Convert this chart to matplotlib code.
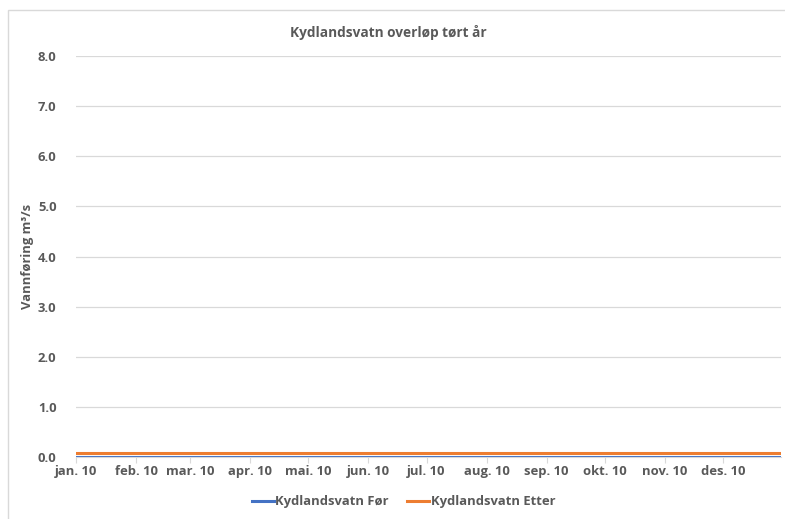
import matplotlib
matplotlib.use("Agg")
import matplotlib.pyplot as plt
from matplotlib.patches import Rectangle
import numpy as np

plt.rcParams['font.family'] = ['Open Sans', 'DejaVu Sans']

# data (constant flows)
dates = np.array(['2010-01-01', '2010-02-01', '2010-03-01', '2010-04-01', '2010-05-01',
                  '2010-06-01', '2010-07-01', '2010-08-01', '2010-09-01', '2010-10-01',
                  '2010-11-01', '2010-12-01', '2010-12-31'], dtype='datetime64[D]')
for_values = [0.005, 0.005, 0.005, 0.005, 0.005, 0.005, 0.005, 0.005, 0.005, 0.005, 0.005, 0.005, 0.005]
etter_values = [0.08, 0.08, 0.08, 0.08, 0.08, 0.08, 0.08, 0.08, 0.08, 0.08, 0.08, 0.08, 0.08]
tick_dates = dates[:12]
tick_labels = ['jan. 10', 'feb. 10', 'mar. 10', 'apr. 10', 'mai. 10', 'jun. 10',
               'jul. 10', 'aug. 10', 'sep. 10', 'okt. 10', 'nov. 10', 'des. 10']

text_col = '#595959'
grid_col = '#d9d9d9'
fs = 9.4

fig = plt.figure(figsize=(7.85, 5.19), dpi=100)
fig.patches.append(Rectangle((8 / 785, -0.01), 1.0, 1 - 10 / 519 + 0.01,
                             transform=fig.transFigure, fill=False,
                             edgecolor=grid_col, linewidth=1))
ax = fig.add_axes([76 / 785, 1 - 457 / 519, (781 - 76) / 785, (457 - 56) / 519])

ax.plot(dates, for_values, color='#4472c4', linewidth=2.2, label='Kydlandsvatn Før')
ax.plot(dates, etter_values, color='#ed7d31', linewidth=2.2, label='Kydlandsvatn Etter')

ax.set_ylim(0, 8)
ax.set_yticks(np.arange(0, 9, 1))
ax.set_yticklabels([f'{v:.1f}' for v in np.arange(0, 9, 1)])
ax.set_xlim(dates[0], dates[-1])
ax.set_xticks(tick_dates)
ax.set_xticklabels(tick_labels)

ax.grid(axis='y', color=grid_col, linewidth=0.9)
ax.set_axisbelow(True)
for s in ['top', 'right', 'left']:
    ax.spines[s].set_visible(False)
ax.spines['bottom'].set_color(grid_col)
ax.tick_params(axis='y', length=0, pad=14, labelsize=fs, labelcolor=text_col)
ax.tick_params(axis='x', length=4, color=grid_col, direction='out', pad=2,
               labelsize=fs, labelcolor=text_col)
for lbl in ax.get_xticklabels() + ax.get_yticklabels():
    lbl.set_fontweight('bold')

ax.set_ylabel('Vannføring m³/s', fontsize=fs, fontweight='bold', color=text_col, labelpad=3)
fig.text(388 / 785, 1 - 33 / 519, 'Kydlandsvatn overløp tørt år', ha='center',
         va='center', fontsize=9.8, fontweight='bold', color=text_col)

leg = fig.legend(loc='center', bbox_to_anchor=(0.514, 1 - 502 / 519), ncol=2, frameon=False,
                 handlelength=1.7, handletextpad=0.1, columnspacing=1.4,
                 prop={'size': fs, 'weight': 'bold'})
for t in leg.get_texts():
    t.set_color(text_col)

fig.savefig('out.png', dpi=100)
